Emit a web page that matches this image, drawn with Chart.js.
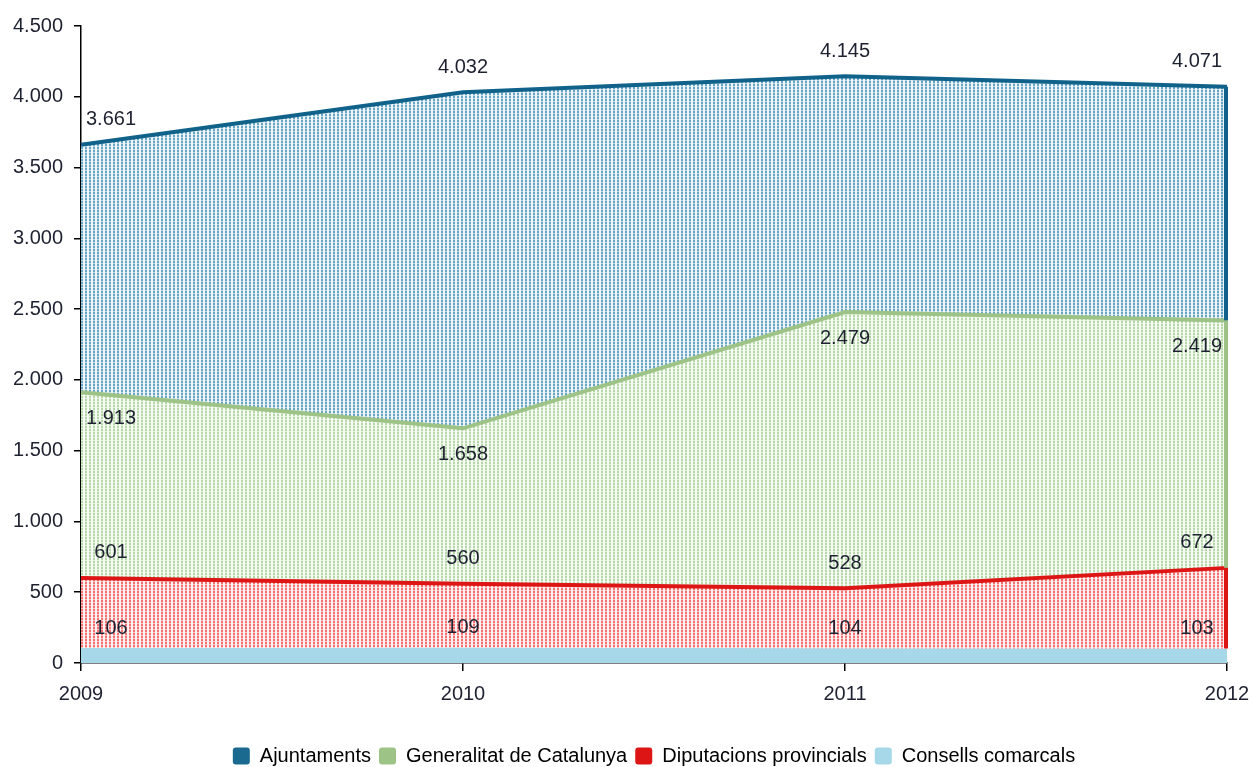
<!DOCTYPE html>
<html>
<head>
<meta charset="utf-8">
<script src="https://cdn.jsdelivr.net/npm/chart.js@4/dist/chart.umd.min.js"></script>
<style>
  html, body { margin: 0; padding: 0; background: #fff; }
  #wrap { width: 1252px; height: 767px; }
</style>
</head>
<body>
<div id="wrap"><canvas id="chart"></canvas></div>
<script>
const years = ['2009', '2010', '2011', '2012'];
const ajuntaments = [3661, 4032, 4145, 4071];
const generalitat = [1913, 1658, 2479, 2419];
const diputacions = [601, 560, 528, 672];
const consells = [106, 109, 104, 103];
const yTicks = [0, 500, 1000, 1500, 2000, 2500, 3000, 3500, 4000, 4500];

const FONT = '"Liberation Sans", Arial, sans-serif';

function fmt(v) {
  return String(v).replace(/\B(?=(\d{3})+(?!\d))/g, '.');
}

// stippled columns like the excel pattern fill
function dots(color) {
  const c = document.createElement('canvas');
  c.width = 4;
  c.height = 3;
  const x = c.getContext('2d');
  x.fillStyle = '#fff';
  x.fillRect(0, 0, 4, 3);
  x.fillStyle = color;
  x.globalAlpha = 0.08;
  x.fillRect(0, 0, 4, 3);
  x.globalAlpha = 0.7;
  x.fillRect(1, 0, 2, 2);
  x.globalAlpha = 0.25;
  x.fillRect(1, 2, 2, 1);
  return x.createPattern(c, 'repeat');
}

const lineColors = ['#10628a', '#9dc386', '#dd1515', '#a6d8ea'];
const legendColors = ['#1a6a8f', '#9dc386', '#dd1515', '#a6d8ea'];
const labelDy = [-25, 26, -25, -20];

const labelsPlugin = {
  id: 'valueLabels',
  afterLayout(chart) {
    // legend is centred under the plot area, not the whole canvas
    const shift = (chart.chartArea.left + chart.chartArea.right) / 2 - (chart.legend.left + chart.legend.right) / 2;
    chart.legend.left += shift;
    chart.legend.right += shift;
  },
  afterDatasetsDraw(chart) {
    const ctx = chart.ctx;
    const n = chart.data.datasets.length;
    // closing edge at the right side, like the excel area borders
    for (let i = 0; i < n - 1; i++) {
      const meta = chart.getDatasetMeta(i);
      const next = chart.getDatasetMeta(i + 1);
      const last = meta.data.length - 1;
      ctx.save();
      ctx.strokeStyle = lineColors[i];
      ctx.lineWidth = 4;
      ctx.beginPath();
      ctx.moveTo(meta.data[last].x - 1, meta.data[last].y);
      ctx.lineTo(meta.data[last].x - 1, next.data[last].y);
      ctx.stroke();
      ctx.restore();
    }
    ctx.save();
    ctx.font = '20px ' + FONT;
    ctx.fillStyle = '#1e2230';
    ctx.textAlign = 'center';
    ctx.textBaseline = 'middle';
    chart.data.datasets.forEach((ds, i) => {
      const meta = chart.getDatasetMeta(i);
      meta.data.forEach((pt, j) => {
        let dx = 0;
        if (j === 0) dx = 30;
        if (j === meta.data.length - 1) dx = -30;
        ctx.fillText(fmt(ds.data[j]), pt.x + dx, pt.y + labelDy[i]);
      });
    });
    ctx.restore();
  }
};

const ctx = document.getElementById('chart').getContext('2d');

new Chart(ctx, {
  type: 'line',
  data: {
    labels: years,
    datasets: [{
      label: 'Ajuntaments',
      data: ajuntaments,
      borderColor: lineColors[0],
      backgroundColor: dots('#2d84ad'),
      borderWidth: 4,
      fill: '+1'
    }, {
      label: 'Generalitat de Catalunya',
      data: generalitat,
      borderColor: lineColors[1],
      backgroundColor: dots('#9cc789'),
      borderWidth: 4,
      fill: '+1'
    }, {
      label: 'Diputacions provincials',
      data: diputacions,
      borderColor: lineColors[2],
      backgroundColor: dots('#e83a3a'),
      borderWidth: 4,
      fill: '+1'
    }, {
      label: 'Consells comarcals',
      data: consells,
      borderColor: lineColors[3],
      backgroundColor: '#a6d8ea',
      borderWidth: 0,
      fill: 'origin'
    }]
  },
  options: {
    responsive: true,
    maintainAspectRatio: false,
    animation: false,
    elements: {
      point: { radius: 0, hoverRadius: 0 },
      line: { tension: 0 }
    },
    layout: {
      padding: { top: 26, right: 25, left: 0, bottom: -9 }
    },
    scales: {
      x: {
        type: 'category',
        offset: false,
        afterFit(scale) {
          scale.height = 75;
          scale.paddingLeft = 0;
          scale.paddingRight = 0;
        },
        border: { color: '#000', width: 1.5 },
        grid: { drawOnChartArea: false, tickLength: 8, color: '#000', tickColor: '#000', lineWidth: 1.5 },
        ticks: { font: { family: FONT, size: 20 }, color: '#1e2230', padding: 11, maxRotation: 0 }
      },
      y: {
        min: 0,
        max: 4500,
        afterFit(scale) { scale.width = 81; },
        afterBuildTicks(scale) { scale.ticks = yTicks.map(v => ({ value: v })); },
        border: { color: '#000', width: 1.5 },
        grid: { drawOnChartArea: false, tickLength: 7, color: '#000', tickColor: '#000', lineWidth: 1.5 },
        ticks: {
          font: { family: FONT, size: 20 },
          color: '#1e2230',
          padding: 11,
          callback: v => fmt(v)
        }
      }
    },
    plugins: {
      filler: { drawTime: 'beforeDatasetsDraw' },
      tooltip: { enabled: false },
      legend: {
        position: 'bottom',
        labels: {
          font: { family: FONT, size: 20, lineHeight: 1 },
          color: '#1e2230',
          boxWidth: 17,
          boxHeight: 17,
          padding: 8,
          generateLabels(chart) {
            return chart.data.datasets.map((ds, i) => ({
              text: ds.label,
              fillStyle: legendColors[i],
              strokeStyle: legendColors[i],
              lineWidth: 0,
              borderRadius: 3,
              datasetIndex: i
            }));
          }
        }
      }
    }
  },
  plugins: [labelsPlugin]
});
</script>
</body>
</html>
